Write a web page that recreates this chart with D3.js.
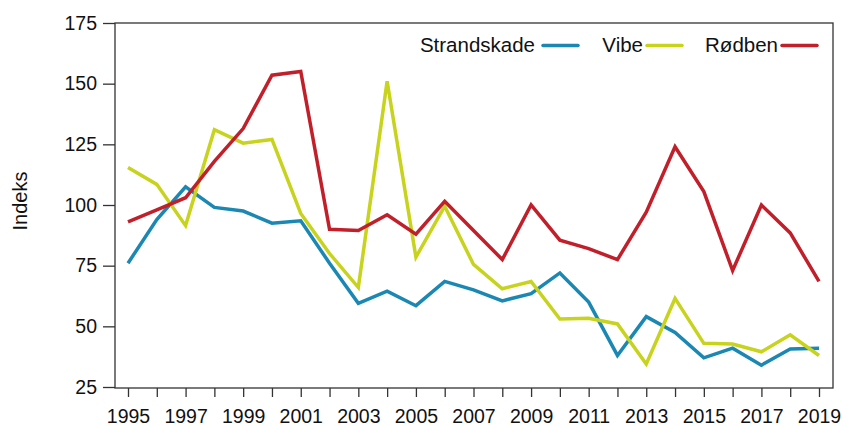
<!DOCTYPE html>
<html>
<head>
<meta charset="utf-8">
<script src="https://cdn.jsdelivr.net/npm/d3@7"></script>
<style>
  body { margin: 0; background: #fff; }
  text { font-family: "Liberation Sans", Arial, sans-serif; fill: #111; }
</style>
</head>
<body>
<div id="chart"></div>
<script>
// Data
const years = d3.range(1995, 2020);
const strandskade = [76, 94, 107.5, 99, 97.5, 92.5, 93.5, 76, 59.5, 64.5, 58.5, 68.5, 65, 60.5, 63.5, 72, 60, 38, 54, 47.5, 37, 41, 34, 40.7, 41];
const vibe = [115.5, 108.5, 91.5, 131, 125.5, 127, 96.5, 80, 66, 151, 78.5, 99.5, 75.5, 65.5, 68.5, 53, 53.3, 51, 34.5, 61.5, 43, 42.7, 39.5, 46.5, 38];
const rodben = [93, 98, 103, 118, 131.5, 153.5, 155, 90, 89.5, 96, 88, 101.5, 89.5, 77.5, 100, 85.5, 82, 77.5, 97, 124, 105.5, 73, 100, 88.5, 68.5];
const yTicks = [25, 50, 75, 100, 125, 150, 175];
const series = [
  { name: "Strandskade", values: strandskade, color: "#1b88b4" },
  { name: "Vibe", values: vibe, color: "#c7d31c" },
  { name: "Rødben", values: rodben, color: "#c1202b" }
];

const width = 842;
const height = 426;
const frame = { left: 115, right: 833, top: 23, bottom: 388 };

const svg = d3
  .select("#chart")
  .append("svg")
  .attr("width", width)
  .attr("height", height);

const x = d3.scaleLinear().domain([1995, 2019]).range([128, 819]);
const y = d3.scaleLinear().domain([25, 175]).range([387, 23]);

// plot frame
svg
  .append("rect")
  .attr("x", frame.left)
  .attr("y", frame.top)
  .attr("width", frame.right - frame.left)
  .attr("height", frame.bottom - frame.top)
  .attr("fill", "none")
  .attr("stroke", "#333")
  .attr("stroke-width", 1.3);

// y axis
const yAxis = svg
  .append("g")
  .attr("transform", `translate(${frame.left},0)`)
  .call(d3.axisLeft(y).tickValues(yTicks).tickSize(12).tickPadding(6));
yAxis.select(".domain").remove();
yAxis.selectAll("line").attr("stroke", "#333").attr("stroke-width", 1.3);
yAxis.selectAll("text").attr("font-size", 19.5).attr("fill", "#111").style("font-family", "Liberation Sans, Arial, sans-serif");

// x axis: a tick every year, labels on odd years
const xAxis = svg
  .append("g")
  .attr("transform", `translate(0,${frame.bottom})`)
  .call(
    d3.axisBottom(x)
      .tickValues(years)
      .tickSize(9)
      .tickPadding(12)
      .tickFormat((d) => (d % 2 === 1 ? String(d) : ""))
  );
xAxis.select(".domain").remove();
xAxis.selectAll("line").attr("stroke", "#333").attr("stroke-width", 1.3);
xAxis.selectAll("text").attr("font-size", 19.5).attr("fill", "#111").style("font-family", "Liberation Sans, Arial, sans-serif");

// y label
svg
  .append("text")
  .attr("transform", "translate(27,201) rotate(-90)")
  .attr("text-anchor", "middle")
  .attr("font-size", 20)
  .text("Indeks");

// lines
const line = d3
  .line()
  .x((d, i) => x(years[i]))
  .y((d) => y(d));

series.forEach((s) => {
  svg
    .append("path")
    .datum(s.values)
    .attr("d", line)
    .attr("fill", "none")
    .attr("stroke", s.color)
    .attr("stroke-width", 3.5)
    .attr("stroke-linejoin", "miter");
});

// legend: text then line sample
const legendTextEnd = [535, 643, 778];
const legendLineStart = [543, 647, 782];
series.forEach((s, i) => {
  const g = svg.append("g");
  g.append("text")
    .attr("x", legendTextEnd[i])
    .attr("y", 52)
    .attr("text-anchor", "end")
    .attr("font-size", 20.5)
    .text(s.name);
  g.append("line")
    .attr("x1", legendLineStart[i])
    .attr("x2", legendLineStart[i] + 35)
    .attr("y1", 45.5)
    .attr("y2", 45.5)
    .attr("stroke", s.color)
    .attr("stroke-width", 3.5)
    .attr("stroke-linecap", "round");
});
</script>
</body>
</html>
